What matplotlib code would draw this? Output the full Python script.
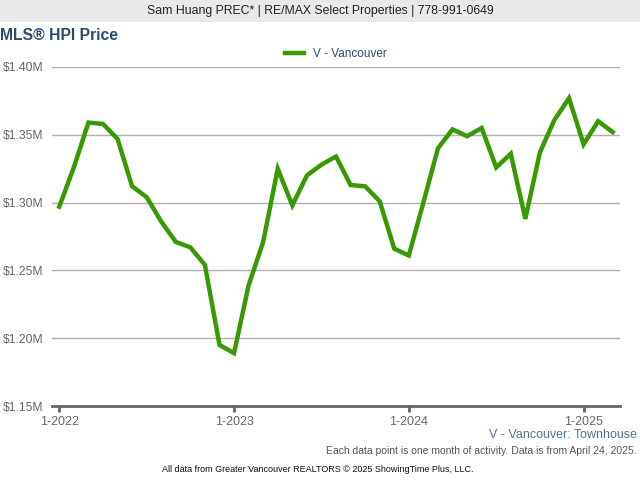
import matplotlib.pyplot as plt
from matplotlib.ticker import FuncFormatter

plt.rcParams['font.family'] = ['Liberation Sans', 'DejaVu Sans']

# monthly HPI, Jan 2022 .. Mar 2025 (millions)
prices = [1.297, 1.326, 1.359, 1.358, 1.347, 1.312, 1.304, 1.286, 1.271, 1.267, 1.254, 1.195,
          1.189, 1.239, 1.271, 1.325, 1.298, 1.320, 1.328, 1.334, 1.313, 1.312, 1.301, 1.266,
          1.261, 1.300, 1.340, 1.354, 1.349, 1.355, 1.326, 1.336, 1.288, 1.337, 1.361, 1.377,
          1.343, 1.360, 1.352]
months = list(range(len(prices)))
tick_pos = [0, 12, 24, 36]
tick_labels = ['1-2022', '1-2023', '1-2024', '1-2025']
yticks = [1.15, 1.20, 1.25, 1.30, 1.35, 1.40]

fig = plt.figure(figsize=(6.4, 4.8), dpi=100)

# top banner
fig.patches.append(plt.Rectangle((0, 1 - 22 / 480), 1, 22 / 480, transform=fig.transFigure,
                                 facecolor='#e9e9e9', edgecolor='none'))
fig.text(0.5, 1 - 11 / 480, 'Sam Huang PREC* | RE/MAX Select Properties | 778-991-0649',
         ha='center', va='center', fontsize=8.8, color='#222222')
fig.text(0.0, 1 - 35 / 480, 'MLS® HPI Price', ha='left', va='center', fontsize=11.3,
         fontweight='bold', color='#2d4b6e')

ax = fig.add_axes([52 / 640, 1 - 406 / 480, 568 / 640, 339 / 480])
ax.plot(months, prices, color='#369a00', lw=3.2, solid_joinstyle='miter',
        label='V - Vancouver')
ax.set_xlim(-0.5, 38.5)
ax.set_ylim(1.15, 1.40)
ax.set_yticks(yticks)
ax.yaxis.set_major_formatter(FuncFormatter(lambda v, p: '${:.2f}M'.format(v)))
ax.set_xticks(tick_pos)
ax.set_xticklabels(tick_labels)
ax.grid(axis='y', color='#b0b0b0', lw=1)
ax.set_axisbelow(True)
for s in ['top', 'right', 'left']:
    ax.spines[s].set_visible(False)
ax.spines['bottom'].set_color('#666666')
ax.spines['bottom'].set_linewidth(2)
ax.tick_params(axis='y', length=0, labelsize=8.7, labelcolor='#666666', pad=6)
ax.tick_params(axis='x', length=4, width=2, color='#666666', labelsize=9,
               labelcolor='#666666', pad=3)

leg = ax.legend(loc='lower center', bbox_to_anchor=(0.5, 1.0), frameon=False, fontsize=8.5,
                handlelength=1.6, borderaxespad=0.2)
for t in leg.get_texts():
    t.set_color('#2d4b6e')

fig.text(637 / 640, 1 - 435 / 480, 'V - Vancouver: Townhouse', ha='right', va='center',
         fontsize=9, color='#4f73a0')
fig.text(637 / 640, 1 - 451 / 480,
         'Each data point is one month of activity. Data is from April 24, 2025.',
         ha='right', va='center', fontsize=7.5, color='#555555')
fig.text(318 / 640, 1 - 469 / 480,
         'All data from Greater Vancouver REALTORS © 2025 ShowingTime Plus, LLC.',
         ha='center', va='center', fontsize=6.5, color='#111111')

fig.savefig('out.png', dpi=100)
